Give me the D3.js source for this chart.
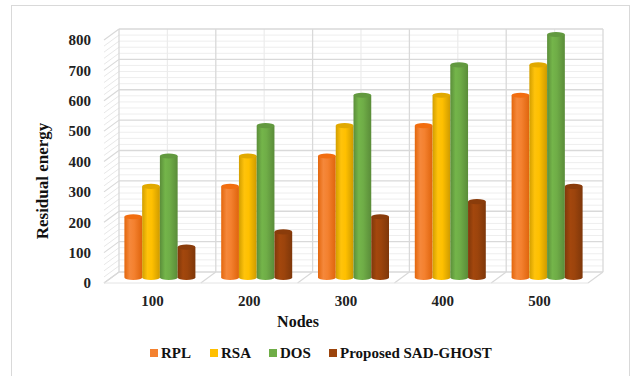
<!DOCTYPE html>
<html>
<head>
<meta charset="utf-8">
<script src="https://cdn.jsdelivr.net/npm/d3@7"></script>
<style>
  html, body { margin: 0; padding: 0; background: #fff; }
  svg text { font-family: "Liberation Serif", "Times New Roman", serif; }
</style>
</head>
<body>
<svg id="chart" width="633" height="376"></svg>
<script>
// Residual energy per node count, four schemes
const categories = ["100", "200", "300", "400", "500"];
const seriesNames = ["RPL", "RSA", "DOS", "Proposed SAD-GHOST"];
const rpl = [200, 300, 400, 500, 600];
const rsa = [300, 400, 500, 600, 700];
const dos = [400, 500, 600, 700, 800];
const sadGhost = [100, 150, 200, 250, 300];
const yTicks = [0, 100, 200, 300, 400, 500, 600, 700, 800];

const seriesValues = [rpl, rsa, dos, sadGhost];
const colors = ["#F4812F", "#FFC000", "#6FAD47", "#9C440C"];
const FONT = "Liberation Serif, Times New Roman, serif";

const svg = d3.select("#chart");
const defs = svg.append("defs");

// outer frame
svg.append("rect").attr("x", 11.5).attr("y", 5.5).attr("width", 618).attr("height", 380)
  .attr("fill", "#fff").attr("stroke", "#d9d9d9").attr("stroke-width", 1);

// 3D geometry: front plane and depth offset
const depthX = 15, depthY = -11;
const y = d3.scaleLinear().domain([0, 800]).range([283, 40]);
const x = d3.scaleBand().domain(categories).range([104, 588]).padding(0);
const xs = d3.scaleBand().domain(seriesNames).range([-35.5, 35.5]).padding(0);

const left = x.range()[0], right = x.range()[1];
const backY = v => y(v) + depthY;
const midY = v => y(v) + depthY / 2;

const walls = svg.append("g");
// back wall
walls.append("rect").attr("x", left + depthX).attr("y", backY(800))
  .attr("width", right - left).attr("height", backY(0) - backY(800))
  .attr("fill", "#fff");
// minor gridlines (every 20)
const minor = d3.range(20, 800, 20).filter(v => v % 100 !== 0);
walls.selectAll(".minor").data(minor).join("line")
  .attr("x1", left + depthX).attr("x2", right + depthX)
  .attr("y1", d => backY(d)).attr("y2", d => backY(d))
  .attr("stroke", "#eeeeee").attr("stroke-width", 1);
walls.selectAll(".minorSide").data(minor).join("line")
  .attr("x1", left).attr("x2", left + depthX)
  .attr("y1", d => y(d)).attr("y2", d => backY(d))
  .attr("stroke", "#e8e8e8").attr("stroke-width", 1);
// vertical lines at category centres
walls.selectAll(".vc").data(categories).join("line")
  .attr("x1", d => x(d) + x.bandwidth() / 2 + depthX).attr("x2", d => x(d) + x.bandwidth() / 2 + depthX)
  .attr("y1", backY(0)).attr("y2", backY(800))
  .attr("stroke", "#ececec").attr("stroke-width", 1.2);
// major gridlines
walls.selectAll(".major").data(yTicks).join("line")
  .attr("x1", left + depthX).attr("x2", right + depthX)
  .attr("y1", d => backY(d)).attr("y2", d => backY(d))
  .attr("stroke", "#d9d9d9").attr("stroke-width", 1.3);
walls.selectAll(".majorSide").data(yTicks).join("line")
  .attr("x1", left).attr("x2", left + depthX)
  .attr("y1", d => y(d)).attr("y2", d => backY(d))
  .attr("stroke", "#d9d9d9").attr("stroke-width", 1.2);
// category boundary lines on back wall and floor
const bounds = categories.map(c => x(c)).concat([right]);
walls.selectAll(".vb").data(bounds).join("line")
  .attr("x1", d => d + depthX).attr("x2", d => d + depthX)
  .attr("y1", backY(0)).attr("y2", backY(800))
  .attr("stroke", "#d9d9d9").attr("stroke-width", 1.3);
walls.selectAll(".fb").data(bounds).join("line")
  .attr("x1", d => d).attr("x2", d => d + depthX)
  .attr("y1", y(0)).attr("y2", backY(0))
  .attr("stroke", "#d9d9d9").attr("stroke-width", 1.2);
// floor front edge
walls.append("line").attr("x1", left).attr("x2", right).attr("y1", y(0)).attr("y2", y(0))
  .attr("stroke", "#e4e4e4").attr("stroke-width", 1);

// cylinder gradients
colors.forEach((c, i) => {
  const g = defs.append("linearGradient").attr("id", "cyl" + i)
    .attr("x1", "0%").attr("x2", "100%").attr("y1", "0%").attr("y2", "0%");
  g.append("stop").attr("offset", "0%").attr("stop-color", d3.hsl(c).darker(0.55));
  g.append("stop").attr("offset", "30%").attr("stop-color", d3.hsl(c).brighter(0.12));
  g.append("stop").attr("offset", "55%").attr("stop-color", c);
  g.append("stop").attr("offset", "100%").attr("stop-color", d3.hsl(c).darker(0.6));
});

// bars as cylinders
const rx = xs.bandwidth() / 2, ry = 2.6;
const bars = svg.append("g");
categories.forEach((cat, ci) => {
  seriesNames.forEach((s, si) => {
    const v = seriesValues[si][ci];
    const cx = x(cat) + x.bandwidth() / 2 + depthX / 2 + xs(s) + rx;
    const yb = midY(0), yt = midY(v);
    const g = bars.append("g");
    g.append("path")
      .attr("d", `M${cx - rx},${yt} L${cx - rx},${yb} A${rx},${ry} 0 0 0 ${cx + rx},${yb} L${cx + rx},${yt} Z`)
      .attr("fill", `url(#cyl${si})`);
    g.append("ellipse").attr("cx", cx).attr("cy", yt).attr("rx", rx).attr("ry", ry)
      .attr("fill", d3.hsl(colors[si]).darker(0.35));
  });
});

// y axis tick labels
svg.append("g").selectAll("text").data(yTicks).join("text")
  .attr("x", 91).attr("y", d => y(d)).attr("dy", "0.35em")
  .attr("text-anchor", "end").attr("font-size", 15).attr("font-weight", "bold")
  .attr("font-family", FONT).attr("fill", "#222").text(d => d);

// category labels
svg.append("g").selectAll("text").data(categories).join("text")
  .attr("x", d => x(d) + x.bandwidth() / 2).attr("y", 301).attr("dy", "0.35em")
  .attr("text-anchor", "middle").attr("font-size", 15).attr("font-weight", "bold")
  .attr("font-family", FONT).attr("fill", "#222").text(d => d);

// axis titles
svg.append("text").attr("x", 298).attr("y", 321).attr("dy", "0.35em")
  .attr("text-anchor", "middle").attr("font-size", 16).attr("font-weight", "bold")
  .attr("font-family", FONT).attr("fill", "#111").text("Nodes");
svg.append("text").attr("transform", "translate(42,181) rotate(-90)").attr("dy", "0.35em")
  .attr("text-anchor", "middle").attr("font-size", 17).attr("font-weight", "bold")
  .attr("font-family", FONT).attr("fill", "#111").text("Residual energy");

// legend
const legendX = [150, 210, 269, 329];
const legend = svg.append("g").selectAll("g").data(seriesNames).join("g")
  .attr("transform", (d, i) => `translate(${legendX[i]},353)`);
legend.append("rect").attr("x", 0).attr("y", -4).attr("width", 8).attr("height", 8)
  .attr("fill", (d, i) => colors[i]);
legend.append("text").attr("x", 11).attr("y", 0).attr("dy", "0.35em")
  .attr("font-size", 15).attr("font-weight", "bold").attr("font-family", FONT)
  .attr("fill", "#111").text(d => d);
</script>
</body>
</html>
